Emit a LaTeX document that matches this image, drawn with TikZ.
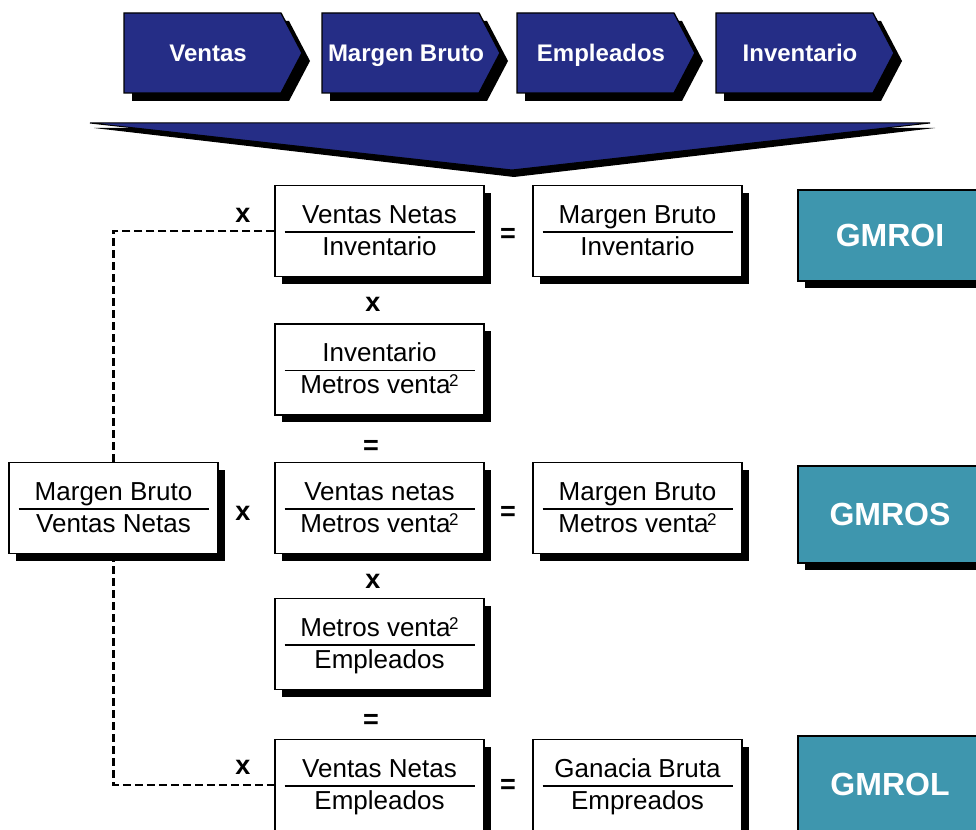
\documentclass[tikz,border=0pt]{standalone}
\usepackage{fontspec}
\setmainfont{Liberation Sans}
\usetikzlibrary{shadows}
\definecolor{navy}{RGB}{37,45,134}
\definecolor{tealbox}{RGB}{62,150,174}

\tikzset{
  fracbox/.style={draw=black, line width=1.5pt, fill=white, minimum width=209pt,
    minimum height=91pt, inner sep=0pt,
    drop shadow={shadow xshift=7pt, shadow yshift=-7pt, fill=black, opacity=1}},
  fractext/.style={inner sep=0pt, font=\fontsize{26}{29}\selectfont},
  fracline/.style={line width=1.5pt},
  chevtext/.style={inner sep=0pt, text=white, font=\fontsize{24}{27}\selectfont\bfseries},
  gmro/.style={draw=black, line width=1.5pt, fill=tealbox, minimum width=184pt,
    inner sep=0pt, text=white, font=\fontsize{32}{36}\selectfont\bfseries,
    drop shadow={shadow xshift=7pt, shadow yshift=-7pt, fill=black, opacity=1}},
  opsym/.style={inner sep=0pt, font=\fontsize{27}{29}\selectfont\bfseries},
  dashline/.style={line width=2.2pt, dash pattern=on 8pt off 4pt},
}

\newcommand{\mkfrac}[5]{%
  \node[fracbox] (#1) at (#2,#3) {};
  \node[fractext, anchor=base] (#1n) at (#2,#3-8) {#4};
  \node[fractext, anchor=base] (#1d) at (#2,#3+24) {#5};
  \draw[fracline] (#2-95,#3+1) -- (#2+95,#3+1);
}
\newcommand{\mkchev}[3]{%
  \fill[black] (#2+8,21) -- (#2+165,21) -- (#2+186,61) -- (#2+165,101) -- (#2+8,101) -- cycle;
  \draw[fill=navy, line width=1.3pt] (#2,13) -- (#2+157,13) -- (#2+178,53) -- (#2+157,93) -- (#2,93) -- cycle;
  \node[chevtext, anchor=base] (#1) at (#2+84,62) {#3};
}
\newcommand{\mv}{Metros venta\kern-1.5pt\raisebox{7pt}{\fontsize{17}{17}\selectfont 2}}

\begin{document}
\begin{tikzpicture}[x=1pt, y=-1pt]
\useasboundingbox (0,0) rectangle (976,829);

% top chevrons
\mkchev{c1}{124}{Ventas}
\mkchev{c2}{322}{Margen Bruto}
\mkchev{c3}{517}{Empleados}
\mkchev{c4}{716}{Inventario}

% funnel
\fill[black] (94,128) -- (935,128) -- (514,177) -- cycle;
\draw[fill=navy, line width=1pt] (90,123) -- (930,123) -- (512,170) -- cycle;

% fraction boxes
\mkfrac{A}{379.5}{231}{Ventas Netas}{Inventario}
\mkfrac{C}{637.5}{231}{Margen Bruto}{Inventario}
\mkfrac{B}{379.5}{369.5}{Inventario}{\mv}
\mkfrac{MB}{113.5}{508}{Margen Bruto}{Ventas Netas}
\mkfrac{D}{379.5}{508}{Ventas netas}{\mv}
\mkfrac{G}{637.5}{508}{Margen Bruto}{\mv}
\mkfrac{E}{379.5}{644}{\mv}{Empleados}
\mkfrac{F}{379.5}{785}{Ventas Netas}{Empleados}
\mkfrac{H}{637.5}{785}{Ganacia Bruta}{Empreados}

% result boxes
\node[gmro, minimum height=91pt] (gmroi) at (890,235.5) {GMROI};
\node[gmro, minimum height=97pt] (gmros) at (890,514.5) {GMROS};
\node[gmro, minimum height=97pt] (gmrol) at (890,784.5) {GMROL};

% operators
\node[opsym] (o1) at (243,215) {x};
\node[opsym] (o2) at (373,304) {x};
\node[opsym] (o3) at (371,447) {=};
\node[opsym] (o4) at (243,513) {x};
\node[opsym] (o5) at (508,235) {=};
\node[opsym] (o6) at (508,513) {=};
\node[opsym] (o7) at (373,581) {x};
\node[opsym] (o8) at (371,721) {=};
\node[opsym] (o9) at (243,767) {x};
\node[opsym] (o10) at (508,786) {=};

% dashed connectors
\draw[dashline] (A.west) -| (MB.north);
\draw[dashline] (MB.south) |- (F.west);
\end{tikzpicture}
\end{document}
